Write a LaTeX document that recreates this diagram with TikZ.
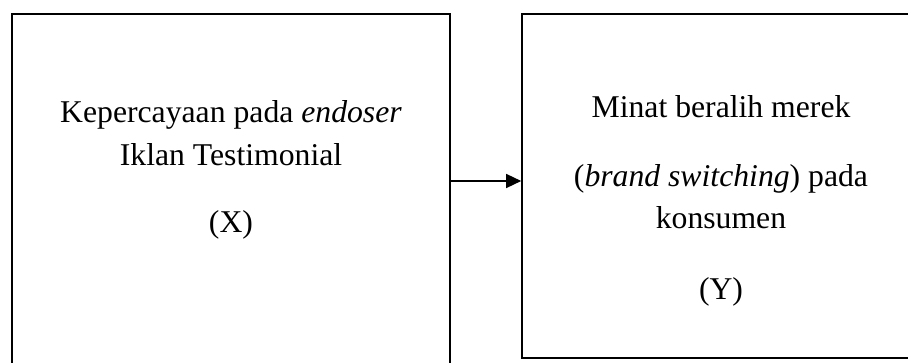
\documentclass[tikz,border=0pt]{standalone}
\usepackage{fontspec}
\setmainfont{Liberation Serif}
\usetikzlibrary{arrows.meta}

\begin{document}
\begin{tikzpicture}[x=1pt,y=-1pt]
	\tikzstyle{box} = [draw, line width=1.6pt, inner sep=0pt]
	\tikzstyle{txt} = [anchor=base, inner sep=0pt, font=\fontsize{31.7}{43}\selectfont]
	\tikzset{link/.style = {line width=1.4pt, -{Triangle[length=15pt,width=14pt]}}}
	
	\useasboundingbox (0,0) rectangle (908,363);
	\clip (0,0) rectangle (908,363);
	
	% variabel X
	\node[box, minimum width=438pt, minimum height=380pt](varx) at (231,204) {};
	\node[txt](x1) at (231,123) {Kepercayaan pada \textit{endoser}};
	\node[txt](x2) at (231,166) {Iklan Testimonial};
	\node[txt](x3) at (231,233) {(X)};
	
	% variabel Y
	\node[box, minimum width=398pt, minimum height=344pt](vary) at (721,186) {};
	\node[txt](y1) at (721,118) {Minat beralih merek};
	\node[txt](y2) at (721,187) {(\textit{brand switching}) pada};
	\node[txt](y3) at (721,229) {konsumen};
	\node[txt](y4) at (721,300) {(Y)};
	
	\coordinate (mid) at (0,181);
	\draw[link](varx.east |- mid) to (vary.west |- mid);
	
\end{tikzpicture}
\end{document}
